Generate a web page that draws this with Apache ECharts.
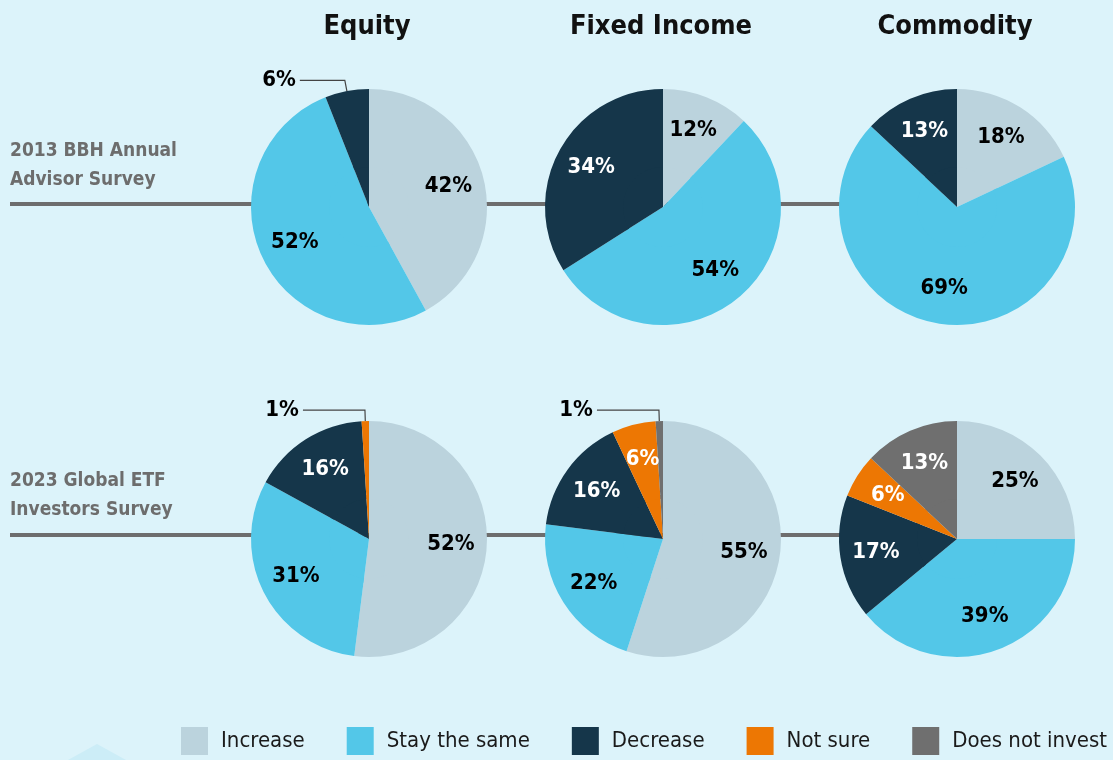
<!DOCTYPE html>
<html>
<head>
<meta charset="utf-8">
<script src="https://cdn.jsdelivr.net/npm/echarts@6/dist/echarts.min.js"></script>
<style>
  html, body { margin: 0; padding: 0; background: #dcf3fa; }
  #chart { width: 1113px; height: 760px; }
</style>
</head>
<body>
<div id="chart"></div>
<script>
const categories = ['Increase', 'Stay the same', 'Decrease', 'Not sure', 'Does not invest'];
const assets = ['Equity', 'Fixed Income', 'Commodity'];
const surveys = ['2013 BBH Annual\nAdvisor Survey', '2023 Global ETF\nInvestors Survey'];
// values per asset, in category order
const survey2013 = [[42, 52, 6], [12, 54, 34], [18, 69, 13]];
const survey2023 = [[52, 31, 16, 1], [55, 22, 16, 6, 1], [25, 39, 17, 6, 13]];
// [row, asset, category] whose label sits outside with a leader line
const outsideLabels = [[0, 0, 2], [1, 0, 3], [1, 1, 4]];

const colors = ['#bbd3dd', '#53c7e8', '#15364a', '#ed7703', '#6f6f6f'];
const labelColors = ['#000', '#000', '#fff', '#fff', '#fff'];
const font = "'Liberation Sans Narrow', 'DejaVu Sans Condensed', 'Roboto', sans-serif";

const cx = [369, 663, 957];
const cy = [207, 539];
const R = 118;

let getchart = echarts.init(document.getElementById('chart'));

let series = [];
[survey2013, survey2023].forEach((rowData, row) => {
  rowData.forEach((vals, a) => {
    let data = [];
    vals.forEach((v, i) => {
      let item = { value: v, name: categories[i], itemStyle: { color: colors[i] },
        label: { color: labelColors[i] } };
      let out = outsideLabels.find(o => o[0] == row && o[1] == a && o[2] == i);
      if (out) {
        item.label = { position: 'outside', color: '#000' };
        item.labelLine = { show: true, length: 11, length2: row == 0 ? 45 : 62,
          lineStyle: { color: '#444', width: 1.2 } };
      }
      data.push(item);
    });
    // inner disk so that the ring labels sit further out, like the original
    series.push({
      type: 'pie', silent: true, animation: false,
      center: [cx[a], cy[row]], radius: [0, 44],
      label: { show: false }, labelLine: { show: false },
      data: data.map(d => ({ value: d.value, name: d.name, itemStyle: d.itemStyle }))
    });
    series.push({
      type: 'pie', animation: false,
      center: [cx[a], cy[row]], radius: [40, R],
      emphasis: { scale: false },
      avoidLabelOverlap: false,
      label: { show: true, position: 'inside', formatter: '{c}%',
        fontFamily: font, fontWeight: 'bold', fontSize: 22, distanceToLabelLine: 4 },
      labelLine: { show: false },
      data: data
    });
  });
});

let titles = assets.map((t, a) => ({
  text: t, left: cx[a] - 2, top: 13, textAlign: 'center', padding: 0,
  textStyle: { fontFamily: font, fontWeight: 'bold', fontSize: 27, color: '#111' }
}));
surveys.forEach((t, row) => {
  titles.push({
    text: t, left: 10, top: row == 0 ? 137 : 467, padding: 0,
    textStyle: { fontFamily: font, fontWeight: 'bold', fontSize: 19, color: '#6d6d6d', lineHeight: 29 }
  });
});

var option = {
  backgroundColor: '#dcf3fa',
  title: titles,
  legend: {
    data: categories, left: 181, top: 727, width: 932, padding: 0,
    itemWidth: 27, itemHeight: 28, itemGap: 42,
    icon: 'rect',
    textStyle: { fontFamily: font, fontSize: 22, color: '#1a1a1a', padding: [12, 0, 0, 8] }
  },
  graphic: [
    { type: 'line', z: 0, shape: { x1: 10, y1: 204, x2: 900, y2: 204 }, style: { stroke: '#6d6d6d', lineWidth: 4 } },
    { type: 'line', z: 0, shape: { x1: 10, y1: 535, x2: 900, y2: 535 }, style: { stroke: '#6d6d6d', lineWidth: 4 } },
    { type: 'polygon', z: 0, shape: { points: [[68, 760], [97, 744], [126, 760]] }, style: { fill: '#ccedf7' } }
  ],
  series: series
};

getchart.setOption(option);
</script>
</body>
</html>
